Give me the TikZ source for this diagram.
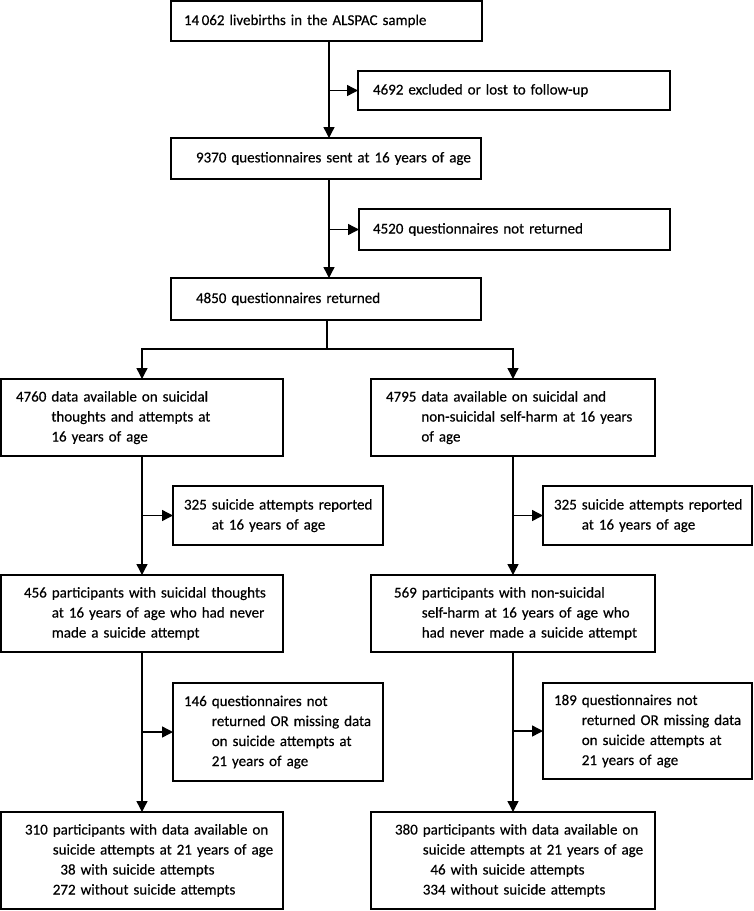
\documentclass[tikz,border=0pt]{standalone}
\usepackage{fontspec}
\setmainfont{Carlito}[FakeBold=0.4]
\usetikzlibrary{arrows.meta}
\newcommand\hangtab[2]{\begin{tabular}{@{}l@{ }l@{}}#1 & #2\end{tabular}}
\tikzset{
  box/.style={draw, line width=1.5pt, rectangle, anchor=north west, inner sep=0pt, outer sep=0pt,
    align=left, font={\fontsize{15}{20}\selectfont}},
  conn/.style={line width=1.4pt},
  arr/.style={line width=1.4pt, -{Triangle[length=11pt,width=11pt]}}
}
\begin{document}
\begin{tikzpicture}[x=1pt,y=-1pt]
\useasboundingbox (0,0) rectangle (754,911);
% top column
\node[box, minimum width=311pt, minimum height=40pt, text width=311pt] (A) at (171,1)
  {\hspace*{13pt}14\,062 livebirths in the ALSPAC sample};
\node[box, minimum width=312pt, minimum height=39pt, text width=312pt] (ex1) at (358,71)
  {\hspace*{15pt}4692 excluded or lost to follow-up};
\node[box, minimum width=310pt, minimum height=41pt, text width=310pt] (B) at (171,138)
  {\hspace*{25pt}9370 questionnaires sent at 16 years of age};
\node[box, minimum width=311pt, minimum height=41pt, text width=311pt] (ex2) at (359,209)
  {\hspace*{14pt}4520 questionnaires not returned};
\node[box, minimum width=310pt, minimum height=42pt, text width=310pt] (C) at (171,278)
  {\hspace*{25pt}4850 questionnaires returned};
% second level
\node[box, minimum width=282pt, minimum height=77pt, text width=282pt] (D) at (1,379)
  {\hspace*{15pt}\hangtab{4760}{data available on suicidal\\ & thoughts and attempts at\\ & 16 years of age}};
\node[box, minimum width=284pt, minimum height=77pt, text width=284pt] (E) at (371,379)
  {\hspace*{15pt}\hangtab{4795}{data available on suicidal and\\ & non-suicidal self-harm at 16 years\\ & of age}};
\node[box, minimum width=210pt, minimum height=59pt, text width=210pt] (ex3L) at (173,486)
  {\hspace*{11pt}\hangtab{325}{suicide attempts reported\\ & at 16 years of age}};
\node[box, minimum width=209pt, minimum height=59pt, text width=209pt] (ex3R) at (543,486)
  {\hspace*{11pt}\hangtab{325}{suicide attempts reported\\ & at 16 years of age}};
\node[box, minimum width=282pt, minimum height=77pt, text width=282pt] (F) at (1,575)
  {\hspace*{23pt}\hangtab{456}{participants with suicidal thoughts\\ & at 16 years of age who had never\\ & made a suicide attempt}};
\node[box, minimum width=284pt, minimum height=77pt, text width=284pt] (G) at (371,575)
  {\hspace*{23pt}\hangtab{569}{participants with non-suicidal\\ & self-harm at 16 years of age who\\ & had never made a suicide attempt}};
\node[box, minimum width=210pt, minimum height=98pt, text width=210pt] (ex4L) at (173,683)
  {\hspace*{11pt}\hangtab{146}{questionnaires not\\ & returned OR missing data\\ & on suicide attempts at\\ & 21 years of age}};
\node[box, minimum width=209pt, minimum height=96pt, text width=209pt] (ex4R) at (543,683)
  {\hspace*{11pt}\hangtab{189}{questionnaires not\\ & returned OR missing data\\ & on suicide attempts at\\ & 21 years of age}};
\node[box, minimum width=282pt, minimum height=97pt, text width=282pt] (H) at (1,812)
  {\hspace*{24pt}\hangtab{310}{participants with data available on\\ & suicide attempts at 21 years of age\\ & \phantom{0}38 with suicide attempts\\ & 272 without suicide attempts}};
\node[box, minimum width=284pt, minimum height=97pt, text width=284pt] (I) at (371,812)
  {\hspace*{24pt}\hangtab{380}{participants with data available on\\ & suicide attempts at 21 years of age\\ & \phantom{0}46 with suicide attempts\\ & 334 without suicide attempts}};
% connectors
\coordinate (v) at (329,0);
\draw[arr] (A.south -| v) -- (B.north -| v);
\draw[arr] (ex1.west -| v) -- (ex1.west);
\draw[arr] (B.south -| v) -- (C.north -| v);
\draw[arr] (ex2.west -| v) -- (ex2.west);
\coordinate (j) at (327,349);
\draw[conn] (C.south -| j) -- (j);
\draw[arr] (j) -| (D.north);
\draw[arr] (j) -| (E.north);
\draw[arr] (D.south) -- (F.north);
\draw[arr] (ex3L.west -| D.south) -- (ex3L.west);
\draw[arr] (E.south) -- (G.north);
\draw[arr] (ex3R.west -| E.south) -- (ex3R.west);
\draw[arr] (F.south) -- (H.north);
\draw[arr] (ex4L.west -| F.south) -- (ex4L.west);
\draw[arr] (G.south) -- (I.north);
\draw[arr] (ex4R.west -| G.south) -- (ex4R.west);
\end{tikzpicture}
\end{document}
